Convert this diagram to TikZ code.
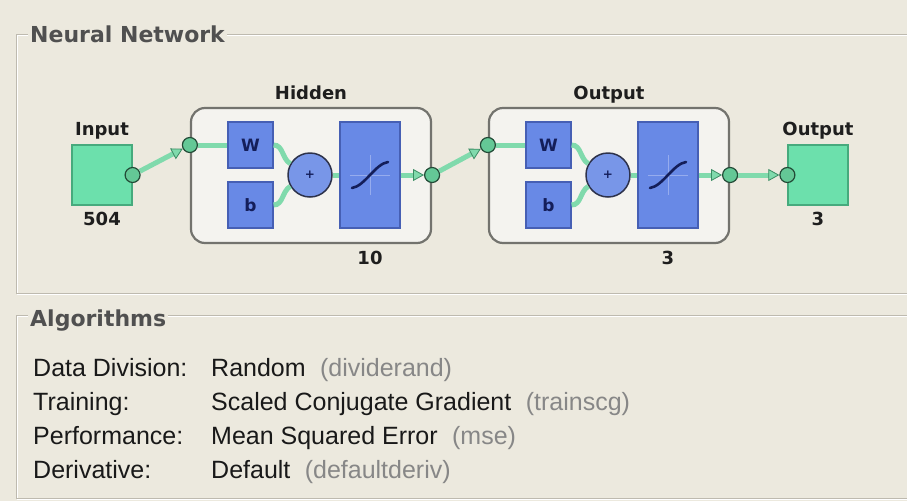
\documentclass[tikz,border=0pt]{standalone}
\usepackage{fontspec}
\setmainfont{Liberation Sans}
\newfontfamily\labelfont{DejaVu Sans}
\usetikzlibrary{arrows.meta,positioning}
\definecolor{panelbg}{RGB}{236,233,222}
\definecolor{framegray}{RGB}{190,186,175}
\definecolor{titlegray}{RGB}{80,80,80}
\definecolor{bodyblack}{RGB}{25,25,25}
\definecolor{fngray}{RGB}{135,135,135}
\definecolor{lblblack}{RGB}{30,30,30}
\definecolor{mint}{RGB}{108,224,172}
\definecolor{mintdark}{RGB}{70,170,125}
\definecolor{boxfill}{RGB}{244,243,239}
\definecolor{boxedge}{RGB}{115,115,110}
\definecolor{wblue}{RGB}{104,137,230}
\definecolor{bluedark}{RGB}{70,95,180}
\definecolor{sumfill}{RGB}{120,150,232}
\definecolor{sumedge}{RGB}{45,50,75}
\definecolor{navy}{RGB}{20,30,90}
\definecolor{axisblue}{RGB}{150,172,238}
\definecolor{dotgreen}{RGB}{100,200,150}
\definecolor{dotedge}{RGB}{35,75,55}
\definecolor{linkgreen}{RGB}{128,218,172}
\definecolor{linkdark}{RGB}{60,140,100}
\begin{document}
\begin{tikzpicture}[x=1pt,y=-1pt,line cap=butt,line join=miter]
	\tikzset{frame/.style={draw=framegray,line width=1pt},
		shine/.style={draw=white,line width=1pt},
		paneltitle/.style={anchor=base west,fill=panelbg,inner xsep=2pt,inner ysep=2pt,text=titlegray,font=\labelfont\bfseries\fontsize{22}{24}\selectfont},
		rowtext/.style={anchor=base west,inner sep=0pt,text=bodyblack,font=\rmfamily\fontsize{25}{30}\selectfont},
		fnname/.style={rowtext,text=fngray},
		lbl/.style={anchor=base,inner sep=0pt,text=lblblack,font=\labelfont\bfseries\fontsize{18}{20}\selectfont},
		minttile/.style={draw=mintdark,line width=1.2pt,fill=mint,minimum size=60pt,inner sep=0pt},
		layerbox/.style={draw=boxedge,line width=2.2pt,fill=boxfill,rounded corners=14pt,minimum width=240pt,minimum height=135pt,inner sep=0pt},
		weightbox/.style={draw=bluedark,line width=1.2pt,fill=wblue,minimum width=45pt,minimum height=46pt,inner sep=0pt,text=navy,font=\labelfont\bfseries\fontsize{17}{18}\selectfont},
		sumnode/.style={circle,draw=sumedge,line width=1.5pt,fill=sumfill,minimum size=44pt,inner sep=0pt,text=navy,font=\labelfont\bfseries\fontsize{12}{12}\selectfont},
		tfbox/.style={draw=bluedark,line width=1.2pt,fill=wblue,minimum width=60pt,minimum height=106pt,inner sep=0pt},
		tfaxis/.style={draw=axisblue,line width=0.8pt},
		sigmoid/.style={draw=navy,line width=2.6pt,line cap=round},
		dot/.style={circle,draw=dotedge,line width=1.2pt,fill=dotgreen,minimum size=15pt,inner sep=0pt},
		link/.style={draw=linkgreen,line width=5pt},
		linkarrow/.style={link,-{Triangle[length=11pt,width=12pt,fill=linkgreen,color=linkdark,line width=0.8pt]}}}
	\fill[panelbg] (0,0) rectangle (907,501);
	\useasboundingbox (0,0) rectangle (907,501);
	%--------- Panels
	\draw[shine] (17,35) rectangle (930,294);
	\draw[frame] (16,34) rectangle (930,293);
	\draw[shine] (17,316) rectangle (930,499);
	\draw[frame] (16,315) rectangle (930,498);
	\node[paneltitle] (nntitle) at (28,42) {Neural Network};
	\node[paneltitle] (algtitle) at (28,326) {Algorithms};
	%--------- Input
	\node[minttile] (inp) at (102,175) {};
	\node[lbl] (inplbl) at ([yshift=8.5pt]inp.north) {Input};
	\node[lbl] (inpsize) at ([yshift=-19.5pt]inp.south) {504};
	\node[dot] (inpdot) at (inp.east) {};
	%--------- Layers
	\foreach \n/\dx/\lname/\lsize in {hid/0/Hidden/10,out/298/Output/3}{
		\node[layerbox] (box\n) at (311+\dx,175.5) {};
		\node[lbl] (title\n) at (311+\dx,99.5) {\lname};
		\node[weightbox] (W\n) at (250.5+\dx,145) {W};
		\node[weightbox] (b\n) at (250.5+\dx,205) {b};
		\node[sumnode] (sum\n) at (310+\dx,175) {+};
		\node[tfbox] (tf\n) at (370+\dx,175) {};
		\draw[tfaxis] ([xshift=-20pt]tf\n.center) -- ([xshift=20pt]tf\n.center);
		\draw[tfaxis] ([yshift=-20pt]tf\n.center) -- ([yshift=20pt]tf\n.center);
		\draw[sigmoid] ([shift={(-18,13)}]tf\n.center) .. controls +(13,-2) and +(-13,2) .. ([shift={(18,-13)}]tf\n.center);
		\node[dot] (in\n) at (box\n.west |- W\n) {};
		\node[dot] (out\n) at (box\n.east |- sum\n) {};
		\node[lbl] (size\n) at (370+\dx,264.5) {\lsize};
		\draw[link] (in\n) -- (W\n);
		\draw[link] (W\n.east) to[out=0,in=150] (sum\n.150);
		\draw[link] (b\n.east) to[out=0,in=210] (sum\n.210);
		\draw[link] (sum\n) -- (tf\n);
		\draw[linkarrow] (tf\n) -- (out\n);
	}
	%--------- Output
	\node[minttile] (fin) at (818,175) {};
	\node[lbl] (finlbl) at ([yshift=8.5pt]fin.north) {Output};
	\node[lbl] (finsize) at ([yshift=-19.5pt]fin.south) {3};
	\node[dot] (findot) at (fin.west) {};
	\draw[linkarrow] (inpdot) -- (inhid);
	\draw[linkarrow] (outhid) -- (inout);
	\draw[linkarrow] (outout) -- (findot);
	%--------- Algorithms
	\node[rowtext] (lbldiv) at (33,376) {Data Division:};
	\node[rowtext] (valdiv) at (211,376) {Random};
	\node[fnname] (fndiv) at ([xshift=14pt]valdiv.base east) {(dividerand)};
	\node[rowtext] (lbltrain) at (33,410) {Training:};
	\node[rowtext] (valtrain) at (211,410) {Scaled Conjugate Gradient};
	\node[fnname] (fntrain) at ([xshift=14pt]valtrain.base east) {(trainscg)};
	\node[rowtext] (lblperf) at (33,444) {Performance:};
	\node[rowtext] (valperf) at (211,444) {Mean Squared Error};
	\node[fnname] (fnperf) at ([xshift=14pt]valperf.base east) {(mse)};
	\node[rowtext] (lblderiv) at (33,478) {Derivative:};
	\node[rowtext] (valderiv) at (211,478) {Default};
	\node[fnname] (fnderiv) at ([xshift=14pt]valderiv.base east) {(defaultderiv)};
\end{tikzpicture}
\end{document}
